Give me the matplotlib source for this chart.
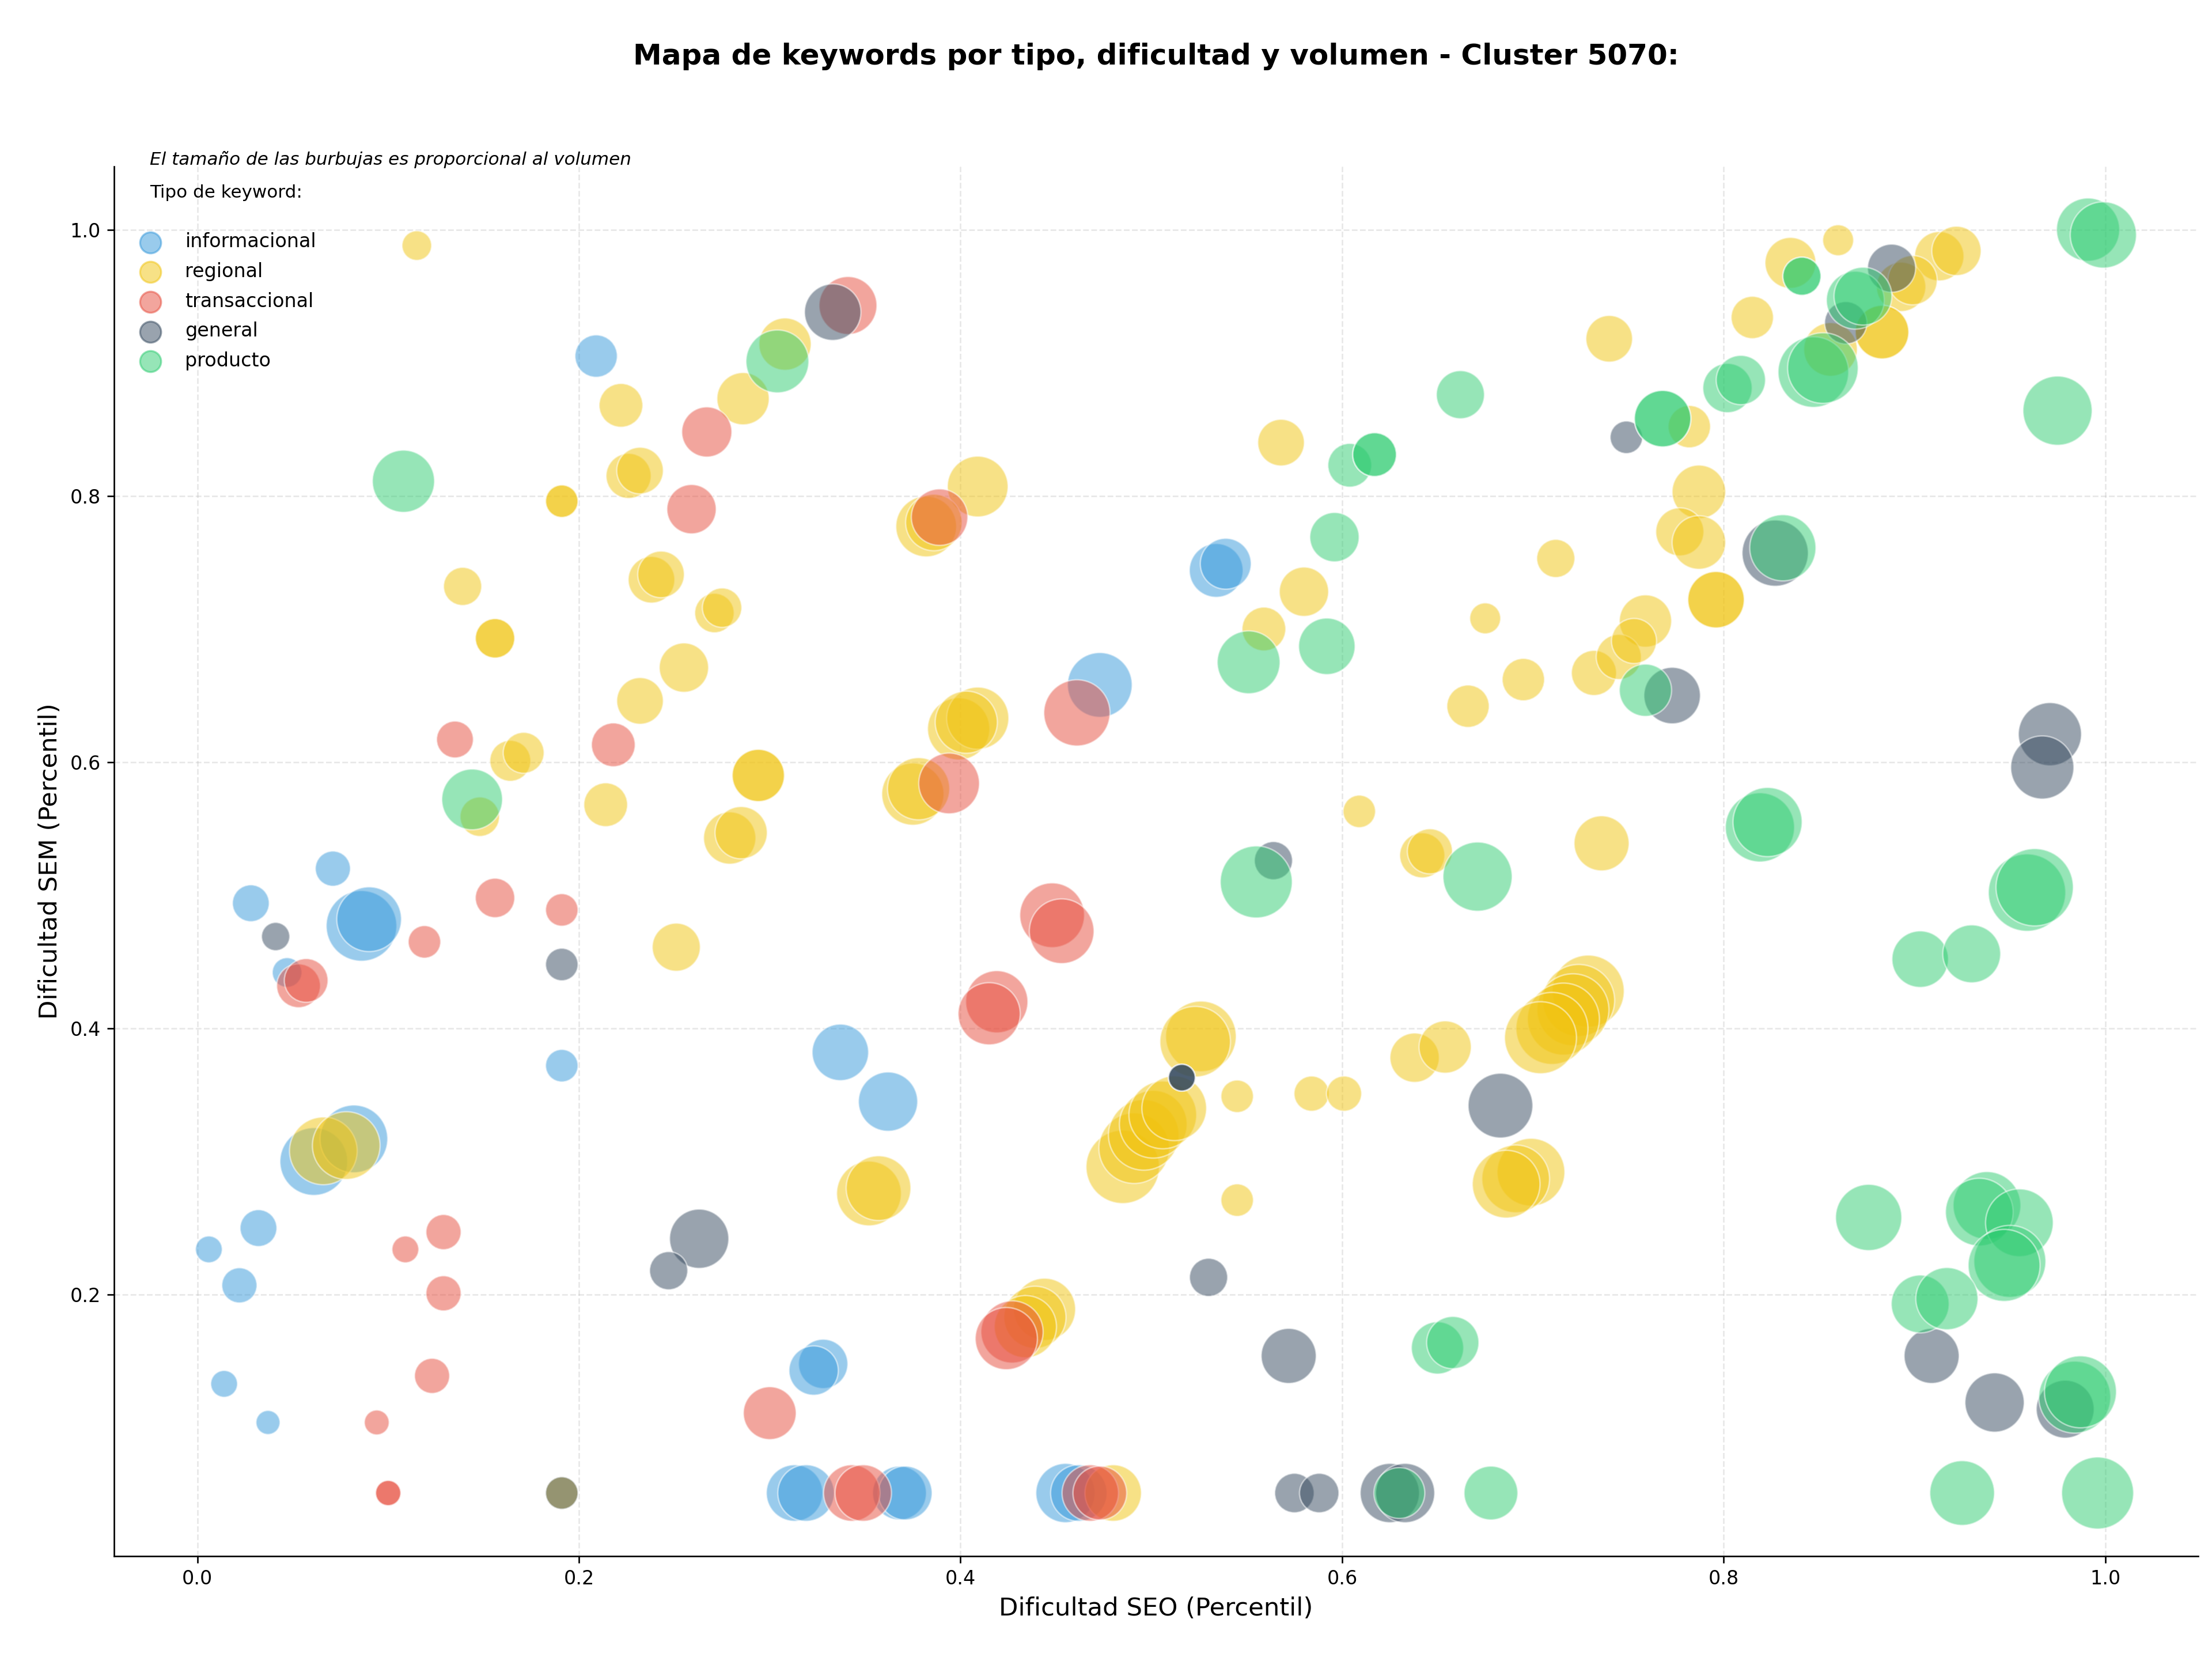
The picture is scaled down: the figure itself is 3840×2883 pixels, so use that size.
#!/usr/bin/env python3
"""Mapa de keywords por tipo, dificultad y volumen - burbujas."""

import matplotlib
matplotlib.use("Agg")
import matplotlib.pyplot as plt
import numpy as np

TITLE = "Mapa de keywords por tipo, dificultad y volumen - Cluster 5070:"
NOTE = "El tamaño de las burbujas es proporcional al volumen"

TIPOS = ["informacional", "regional", "transaccional", "general", "producto"]
COLORES = {
    "informacional": "#3498db",
    "regional": "#f1c40f",
    "transaccional": "#e74c3c",
    "general": "#34495e",
    "producto": "#2ecc71",
}

# --- informacional ---
info_seo = [0.209, 0.473, 0.534, 0.539, 0.028, 0.071, 0.086, 0.090, 0.047, 0.191,
            0.061, 0.082, 0.032, 0.006, 0.022, 0.014, 0.037, 0.337, 0.362, 0.328,
            0.323, 0.313, 0.319, 0.368, 0.371, 0.455, 0.462]
info_sem = [0.905, 0.658, 0.744, 0.749, 0.494, 0.520, 0.477, 0.482, 0.442, 0.372,
            0.300, 0.317, 0.250, 0.234, 0.207, 0.133, 0.104, 0.382, 0.345, 0.148,
            0.143, 0.051, 0.051, 0.051, 0.051, 0.051, 0.051]
info_vol = [900, 2100, 1450, 1300, 680, 620, 2500, 2100, 440, 530,
            2300, 2300, 680, 360, 620, 360, 290, 1600, 1760, 1220,
            1220, 1600, 1600, 1450, 1450, 1760, 1600]

# --- regional ---
reg_seo = [0.115, 0.308, 0.222, 0.286, 0.191, 0.191, 0.226, 0.232, 0.139, 0.238,
           0.243, 0.271, 0.275, 0.156, 0.156, 0.409, 0.382, 0.386, 0.568, 0.580,
           0.675, 0.559, 0.399, 0.409, 0.403, 0.375, 0.378, 0.666, 0.609, 0.642,
           0.646, 0.526, 0.523, 0.545, 0.584, 0.601, 0.638, 0.654, 0.485, 0.491,
           0.496, 0.501, 0.506, 0.512, 0.545, 0.444, 0.439, 0.434, 0.860, 0.835,
           0.913, 0.922, 0.893, 0.899, 0.883, 0.883, 0.856, 0.815, 0.740, 0.782,
           0.787, 0.777, 0.787, 0.712, 0.796, 0.796, 0.759, 0.695, 0.732, 0.745,
           0.753, 0.736, 0.729, 0.724, 0.721, 0.716, 0.710, 0.704, 0.699, 0.691,
           0.686, 0.164, 0.171, 0.148, 0.255, 0.232, 0.294, 0.294, 0.214, 0.279,
           0.285, 0.251, 0.066, 0.078, 0.352, 0.357, 0.191, 0.480]
reg_sem = [0.988, 0.914, 0.868, 0.873, 0.796, 0.796, 0.815, 0.819, 0.732, 0.737,
           0.741, 0.712, 0.716, 0.693, 0.693, 0.807, 0.777, 0.780, 0.840, 0.728,
           0.708, 0.700, 0.625, 0.633, 0.630, 0.576, 0.580, 0.642, 0.563, 0.530,
           0.533, 0.394, 0.390, 0.349, 0.351, 0.351, 0.378, 0.386, 0.296, 0.310,
           0.320, 0.328, 0.335, 0.340, 0.271, 0.189, 0.183, 0.176, 0.992, 0.975,
           0.980, 0.984, 0.957, 0.962, 0.923, 0.923, 0.910, 0.934, 0.918, 0.852,
           0.803, 0.773, 0.765, 0.753, 0.722, 0.722, 0.706, 0.662, 0.667, 0.679,
           0.691, 0.539, 0.428, 0.421, 0.414, 0.407, 0.400, 0.393, 0.292, 0.287,
           0.283, 0.601, 0.607, 0.559, 0.671, 0.646, 0.590, 0.590, 0.568, 0.543,
           0.547, 0.461, 0.308, 0.312, 0.276, 0.280, 0.051, 0.051]
reg_vol = [440, 1370, 960, 1370, 530, 530, 1020, 1090, 730, 1090,
           1090, 780, 780, 780, 780, 1850, 1850, 1600, 1090, 1220,
           480, 960, 1940, 1940, 1940, 1940, 1940, 900, 530, 1020,
           1020, 2500, 2500, 530, 620, 620, 1220, 1370, 2700, 2500,
           2500, 2300, 2300, 2100, 530, 1940, 1940, 1940, 480, 1300,
           1220, 1220, 1220, 1220, 1440, 1440, 1440, 900, 1090, 900,
           1440, 1160, 1440, 730, 1600, 1600, 1370, 900, 1020, 1020,
           1020, 1520, 2600, 2600, 2600, 2600, 2600, 2600, 2300, 2300,
           2300, 840, 840, 780, 1220, 1090, 1370, 1370, 960, 1370,
           1370, 1160, 2300, 2300, 2100, 2100, 530, 1600]

# --- transaccional ---
tra_seo = [0.341, 0.267, 0.259, 0.389, 0.461, 0.394, 0.448, 0.453, 0.419, 0.415,
           0.135, 0.218, 0.053, 0.057, 0.119, 0.156, 0.191, 0.109, 0.129, 0.129,
           0.123, 0.094, 0.300, 0.427, 0.424, 0.100, 0.100, 0.343, 0.349, 0.468,
           0.473]
tra_sem = [0.943, 0.848, 0.790, 0.784, 0.637, 0.584, 0.485, 0.473, 0.420, 0.411,
           0.617, 0.613, 0.432, 0.436, 0.465, 0.498, 0.489, 0.234, 0.247, 0.201,
           0.139, 0.104, 0.111, 0.172, 0.167, 0.051, 0.051, 0.051, 0.051, 0.051,
           0.051]
tra_vol = [1680, 1260, 1220, 1600, 2200, 1850, 2100, 2100, 1940, 1940,
           680, 960, 960, 960, 530, 780, 530, 360, 620, 620,
           620, 310, 1400, 1940, 1940, 320, 320, 1600, 1600, 1600,
           1450]

# --- general ---
gen_seo = [0.333, 0.041, 0.191, 0.263, 0.247, 0.191, 0.564, 0.516, 0.516, 0.516,
           0.683, 0.530, 0.572, 0.575, 0.588, 0.625, 0.633, 0.888, 0.864, 0.749,
           0.827, 0.773, 0.971, 0.967, 0.909, 0.942, 0.979]
gen_sem = [0.938, 0.469, 0.448, 0.242, 0.218, 0.051, 0.526, 0.363, 0.363, 0.363,
           0.342, 0.213, 0.154, 0.051, 0.051, 0.051, 0.051, 0.971, 0.930, 0.844,
           0.757, 0.650, 0.621, 0.596, 0.154, 0.119, 0.114]
gen_vol = [1600, 400, 530, 1760, 730, 530, 730, 360, 360, 360,
           2100, 730, 1520, 780, 780, 1760, 1760, 1160, 900, 530,
           2200, 1600, 2000, 2000, 1520, 1760, 1680]

# --- producto ---
pro_seo = [0.304, 0.108, 0.144, 0.662, 0.604, 0.617, 0.617, 0.596, 0.551, 0.592,
           0.671, 0.555, 0.650, 0.658, 0.630, 0.678, 0.925, 0.996, 0.841, 0.841,
           0.869, 0.873, 0.847, 0.852, 0.802, 0.809, 0.768, 0.768, 0.991, 0.999,
           0.975, 0.831, 0.759, 0.819, 0.823, 0.959, 0.963, 0.903, 0.930, 0.876,
           0.938, 0.934, 0.955, 0.950, 0.947, 0.903, 0.917, 0.984, 0.987]
pro_sem = [0.901, 0.811, 0.572, 0.876, 0.823, 0.831, 0.831, 0.769, 0.675, 0.687,
           0.514, 0.510, 0.160, 0.164, 0.051, 0.051, 0.051, 0.051, 0.965, 0.965,
           0.947, 0.950, 0.893, 0.896, 0.881, 0.887, 0.858, 0.858, 1.000, 0.996,
           0.864, 0.761, 0.654, 0.551, 0.555, 0.502, 0.506, 0.452, 0.456, 0.258,
           0.267, 0.262, 0.254, 0.225, 0.222, 0.193, 0.197, 0.123, 0.127]
pro_vol = [1980, 1940, 1850, 1160, 960, 960, 960, 1220, 1980, 1600,
           2400, 2600, 1370, 1370, 1300, 1450, 2100, 2600, 730, 730,
           1680, 1680, 2500, 2500, 1220, 1220, 1600, 1600, 2000, 2200,
           2400, 2200, 1370, 2400, 2400, 3000, 3000, 1600, 1680, 2200,
           2300, 2300, 2300, 2600, 2600, 1680, 1940, 2600, 2600]

DATA = {
    "informacional": (info_seo, info_sem, info_vol),
    "regional": (reg_seo, reg_sem, reg_vol),
    "transaccional": (tra_seo, tra_sem, tra_vol),
    "general": (gen_seo, gen_sem, gen_vol),
    "producto": (pro_seo, pro_sem, pro_vol),
}

SIZE_FACTOR = 0.54  # volumen -> area de marcador (pt^2)


def main():
    fig = plt.figure(figsize=(16, 2883 / 240), dpi=240)
    ax = fig.add_axes([0.0516, 0.0631, 0.9421, 0.8367])

    for tipo in TIPOS:
        x, y, vol = DATA[tipo]
        ax.scatter(x, y, s=np.array(vol) * SIZE_FACTOR, c=COLORES[tipo],
                   alpha=0.5, edgecolors="white", linewidths=0.8)

    ax.set_xlabel("Dificultad SEO (Percentil)", fontsize=13)
    ax.set_ylabel("Dificultad SEM (Percentil)", fontsize=13)
    ax.tick_params(labelsize=10)
    ax.set_title(TITLE, fontsize=15, fontweight="bold", pad=53)

    ax.grid(True, linestyle="--", alpha=0.3)
    ax.set_axisbelow(True)
    ax.spines["top"].set_visible(False)
    ax.spines["right"].set_visible(False)

    ax.text(0.017, 1.005, NOTE, transform=ax.transAxes, fontsize=9.3,
            style="italic", va="center", ha="left")
    ax.text(0.017, 0.981, "Tipo de keyword:", transform=ax.transAxes,
            fontsize=9.3, va="center", ha="left")

    handles = [ax.scatter([], [], s=120, c=COLORES[t], alpha=0.5, label=t)
               for t in TIPOS]
    ax.legend(handles=handles, loc="upper left", bbox_to_anchor=(0.0, 0.965),
              frameon=False, fontsize=10, handletextpad=0.8, labelspacing=0.56)

    fig.savefig("out.png", dpi=240)
    plt.close(fig)


if __name__ == "__main__":
    main()
